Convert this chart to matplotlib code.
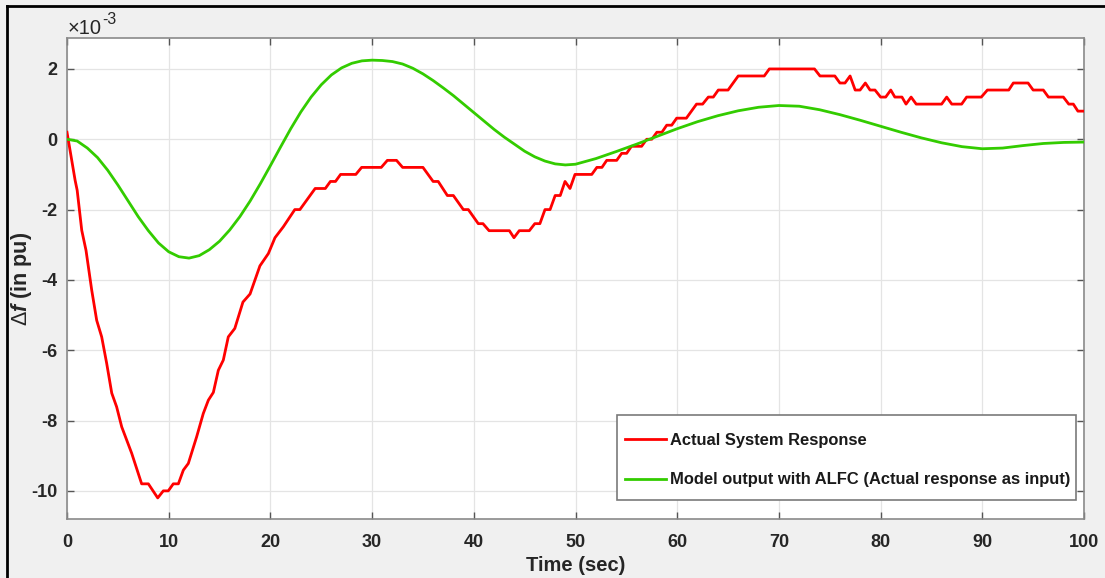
import matplotlib
matplotlib.use("Agg")
import matplotlib.pyplot as plt
from matplotlib.lines import Line2D
from matplotlib.patches import Rectangle

plt.rcParams['font.family'] = ['Liberation Sans', 'DejaVu Sans']
plt.rcParams['mathtext.fontset'] = 'custom'
plt.rcParams['mathtext.rm'] = 'Liberation Sans'
plt.rcParams['mathtext.it'] = 'Liberation Sans:italic:bold'
plt.rcParams['mathtext.bf'] = 'Liberation Sans:bold'

# Frequency deviation, in units of 1e-3 pu
actual_t = [0, 0.8, 1.0, 1.45, 1.87, 2.43, 2.92, 3.41, 3.9, 4.4, 4.88, 5.38, 6.36,
            7.34, 8.0, 8.92, 9.47, 9.96, 10.45, 10.95, 11.44, 11.93, 12.75, 13.4,
            13.9, 14.39, 14.88, 15.37, 15.86, 16.5, 17.3, 18.0, 18.97, 19.8, 20.45,
            21.27, 22.4, 22.9, 24.4, 25.4, 25.9, 26.4, 26.9, 28.4, 28.97, 30.9,
            31.5, 32.4, 33.0, 35.0, 36.0, 36.5, 37.4, 37.99, 38.97, 39.46, 40.44,
            40.9, 41.5, 43.5, 43.95, 44.47, 45.46, 46.0, 46.5, 47.0, 47.5, 48.0,
            48.5, 48.97, 49.46, 49.95, 51.6, 52.1, 52.6, 53.07, 54.05, 54.54,
            55.03, 55.5, 56.5, 57.0, 57.5, 58.0, 58.5, 58.97, 59.46, 59.95, 60.9,
            61.9, 62.5, 63.06, 63.55, 64.04, 65.0, 66.0, 68.56, 69.06, 73.5, 74.04,
            75.5, 76.0, 76.5, 77.0, 77.5, 77.98, 78.5, 78.96, 79.45, 80.0, 80.5,
            81.0, 81.4, 82.1, 82.5, 83.0, 83.5, 86.0, 86.5, 87.0, 87.97, 88.46,
            89.9, 90.5, 92.6, 93.05, 94.5, 95.0, 96.0, 96.5, 97.97, 98.5, 98.95,
            99.4, 100]
actual_df = [0.2, -1.17, -1.45, -2.59, -3.16, -4.29, -5.15, -5.62, -6.37, -7.22,
             -7.61, -8.18, -8.93, -9.8, -9.8, -10.2, -10.0, -10.0, -9.8, -9.8,
             -9.41, -9.22, -8.46, -7.8, -7.42, -7.2, -6.57, -6.28, -5.62, -5.38,
             -4.63, -4.4, -3.6, -3.25, -2.8, -2.49, -2.0, -2.0, -1.4, -1.4, -1.2,
             -1.2, -1.0, -1.0, -0.8, -0.8, -0.6, -0.6, -0.8, -0.8, -1.2, -1.2,
             -1.6, -1.6, -2.0, -2.0, -2.4, -2.4, -2.6, -2.6, -2.8, -2.6, -2.6,
             -2.4, -2.4, -2.0, -2.0, -1.6, -1.6, -1.2, -1.4, -1.0, -1.0, -0.8,
             -0.8, -0.6, -0.6, -0.4, -0.4, -0.2, -0.2, 0.0, 0.0, 0.2, 0.2, 0.4,
             0.4, 0.6, 0.6, 1.0, 1.0, 1.2, 1.2, 1.4, 1.4, 1.8, 1.8, 2.0, 2.0,
             1.8, 1.8, 1.6, 1.6, 1.8, 1.4, 1.4, 1.6, 1.4, 1.4, 1.2, 1.2, 1.4,
             1.2, 1.2, 1.0, 1.2, 1.0, 1.0, 1.2, 1.0, 1.0, 1.2, 1.2, 1.4, 1.4,
             1.6, 1.6, 1.4, 1.4, 1.2, 1.2, 1.0, 1.0, 0.8, 0.8]

model_t = [0, 1, 2, 3, 4, 5, 6, 7, 8, 9, 10, 11, 12, 13, 14, 15, 16, 17, 18, 19,
           20, 21, 22, 23, 24, 25, 26, 27, 28, 29, 30, 31, 32, 33, 34, 35, 36,
           37, 38, 39, 40, 41, 42, 43, 44, 45, 46, 47, 48, 49, 50, 52, 54, 56,
           58, 60, 62, 64, 66, 68, 70, 72, 74, 76, 78, 80, 82, 84, 86, 88, 90,
           92, 94, 96, 98, 100]
model_df = [0.0, -0.05, -0.25, -0.52, -0.88, -1.3, -1.75, -2.2, -2.6, -2.95,
            -3.2, -3.34, -3.38, -3.31, -3.14, -2.9, -2.58, -2.2, -1.76, -1.27,
            -0.75, -0.22, 0.3, 0.78, 1.2, 1.55, 1.83, 2.03, 2.16, 2.23, 2.25,
            2.24, 2.21, 2.14, 2.02, 1.86, 1.67, 1.46, 1.24, 1.0, 0.76, 0.52,
            0.28, 0.06, -0.14, -0.34, -0.5, -0.62, -0.7, -0.73, -0.71, -0.55,
            -0.35, -0.14, 0.08, 0.3, 0.5, 0.67, 0.81, 0.91, 0.96, 0.94, 0.84,
            0.7, 0.54, 0.37, 0.2, 0.04, -0.1, -0.21, -0.27, -0.25, -0.18, -0.12,
            -0.09, -0.08]

x_ticks = [0, 10, 20, 30, 40, 50, 60, 70, 80, 90, 100]
y_ticks = [-10, -8, -6, -4, -2, 0, 2]

W, H = 1105, 578
fig = plt.figure(figsize=(W / 100, H / 100), dpi=100, facecolor='#f0f0f0')
ax = fig.add_axes([67 / W, 1 - 519 / H, (1084 - 67) / W, (519 - 38) / H])
ax.set_facecolor('white')

ax.plot(actual_t, actual_df, color='#ff0000', lw=2.0, label='Actual System Response',
        zorder=3)
ax.plot(model_t, model_df, color='#33cc00', lw=2.0,
        label='Model output with ALFC (Actual response as input)', zorder=3)

ax.set_xlim(0, 100)
ax.set_ylim(-10.8, 2.88)
ax.set_xticks(x_ticks)
ax.set_yticks(y_ticks)
ax.set_xticklabels([str(v) for v in x_ticks], fontweight='bold', fontsize=13,
                   color='#262626')
ax.set_yticklabels([str(v) for v in y_ticks], fontweight='bold', fontsize=13,
                   color='#262626')
ax.tick_params(direction='in', length=5, width=1, color='#555555',
               top=True, right=True)
ax.tick_params(axis='x', pad=11)
ax.tick_params(axis='y', pad=7)
ax.grid(True, color='#e4e4e4', lw=0.9, zorder=0)
ax.set_axisbelow(True)
for s in ax.spines.values():
    s.set_color('#8a8a8a')
    s.set_linewidth(1.2)

ax.set_xlabel('Time (sec)', fontsize=14.5, fontweight='bold', color='#262626',
              va='top')
ax.xaxis.set_label_coords(0.5, (519 - 556) / (519 - 38))
ax.set_ylabel(r'$\Delta\mathit{f}$ (in pu)', fontsize=15.5, fontweight='bold',
              color='#262626', va='center')
ax.yaxis.set_label_coords((21 - 67) / (1084 - 67), 0.5)

# exponent marker above the y axis
fig.text(68 / W, 1 - 34 / H, '\u00d710', fontsize=14.5, color='#262626',
         ha='left', va='baseline')
fig.text(102 / W, 1 - 24 / H, '-3', fontsize=11.5, color='#262626',
         ha='left', va='baseline')

# legend box
ax.add_patch(Rectangle((617 / W, 1 - 500 / H), (1076 - 617) / W, (500 - 415) / H,
                       transform=fig.transFigure, facecolor='white',
                       edgecolor='#7a7a7a', lw=1.2, clip_on=False, zorder=4.5))
leg = ax.legend(loc='center left', bbox_to_anchor=(625 / W, 1 - 460 / H),
                bbox_transform=fig.transFigure, borderaxespad=0, borderpad=0,
                frameon=False, prop={'weight': 'bold', 'size': 11.9},
                handlelength=2.5, handletextpad=0.25, labelspacing=1.5)
leg.set_zorder(5)
for t in leg.get_texts():
    t.set_color('#1a1a1a')

# window frame lines along the top and left edges
fig.add_artist(Line2D([7 / W, 1.0], [1 - 6 / H, 1 - 6 / H], color='black', lw=2,
                      transform=fig.transFigure))
fig.add_artist(Line2D([7 / W, 7 / W], [0.0, 1 - 6 / H], color='black', lw=2,
                      transform=fig.transFigure))

fig.savefig('out.png', dpi=100, facecolor=fig.get_facecolor())
